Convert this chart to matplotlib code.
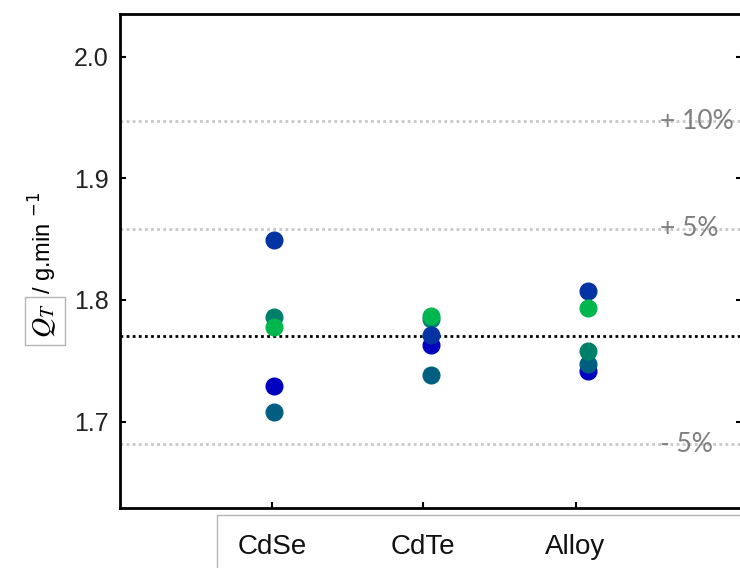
import matplotlib
matplotlib.use("Agg")
import matplotlib.pyplot as plt
from matplotlib.patches import Rectangle

# Data
materials = ["CdSe", "CdTe", "Alloy"]
run_colors = ["#0000c0", "#005f80", "#00806a", "#0533a3", "#00b64e"]
run_values = [
    [1.729, 1.763, 1.742],   # blue
    [1.708, 1.738, 1.747],   # teal
    [1.786, 1.784, 1.758],   # teal-green
    [1.849, 1.771, 1.807],   # dark blue
    [1.778, 1.787, 1.793],   # green
]
reference = 1.77
bands = [0.10, 0.05, -0.05, -0.10]
band_labels = ["+ 10%", "+ 5%", "- 5%", "- 10%"]
yticks = [1.7, 1.8, 1.9, 2.0]

plt.rcParams['font.family'] = ['Liberation Sans', 'DejaVu Sans']

fig = plt.figure(figsize=(7.4, 5.68), dpi=100)
ax = fig.add_axes([120 / 740, 1 - 508 / 568, 622 / 740, 494 / 568])

xpos = [1, 2, 3]
for vals, col in zip(run_values, run_colors):
    ax.plot(xpos, vals, 'o', color=col, markersize=12, linestyle='none', zorder=3)

# reference and tolerance lines
ax.axhline(reference, color='black', linestyle=(0, (1, 1.2)), linewidth=2, zorder=2)
for b, lab in zip(bands, band_labels):
    yv = reference * (1 + b)
    ax.axhline(yv, color='#c8c8c8', linestyle=(0, (1, 1.2)), linewidth=2, zorder=1)
    ax.text(3.46, yv, lab, color='#7f7f7f', fontsize=19, family='Lato',
            ha='left', va='center', zorder=2, clip_on=True)

ax.set_xlim(0.02, 3.98)
ax.set_ylim(1.629, 2.035)
ax.set_yticks(yticks)
ax.set_yticklabels(["%.1f" % v for v in yticks], fontsize=18, color='#222222')
ax.set_xticks([0.99, 1.95, 2.92])
ax.set_xticklabels(materials, fontsize=20, color='#111111')
ax.tick_params(axis='both', direction='in', length=4, width=1.5, right=True)
ax.tick_params(axis='x', pad=19)
ax.tick_params(axis='y', pad=8)
for s in ax.spines.values():
    s.set_linewidth(2)

# box behind the category labels
fig.patches.append(Rectangle((217 / 740, -0.1), 0.8, (568 - 515) / 568 + 0.1,
                             transform=fig.transFigure, fill=False,
                             edgecolor='#b4b4b4', linewidth=1))

# y label
fig.text(45 / 740, 1 - 321 / 568, r'$Q_T$', rotation=90, ha='center', va='center',
         fontsize=20, math_fontfamily='stix',
         bbox=dict(boxstyle='square,pad=0.25', fc='white', ec='#b4b4b4', lw=1))
fig.text(43 / 740, 1 - 294 / 568, r'/ g.min $^{-1}$', rotation=90,
         ha='center', va='bottom', fontsize=17)

fig.savefig("out.png", dpi=100)
